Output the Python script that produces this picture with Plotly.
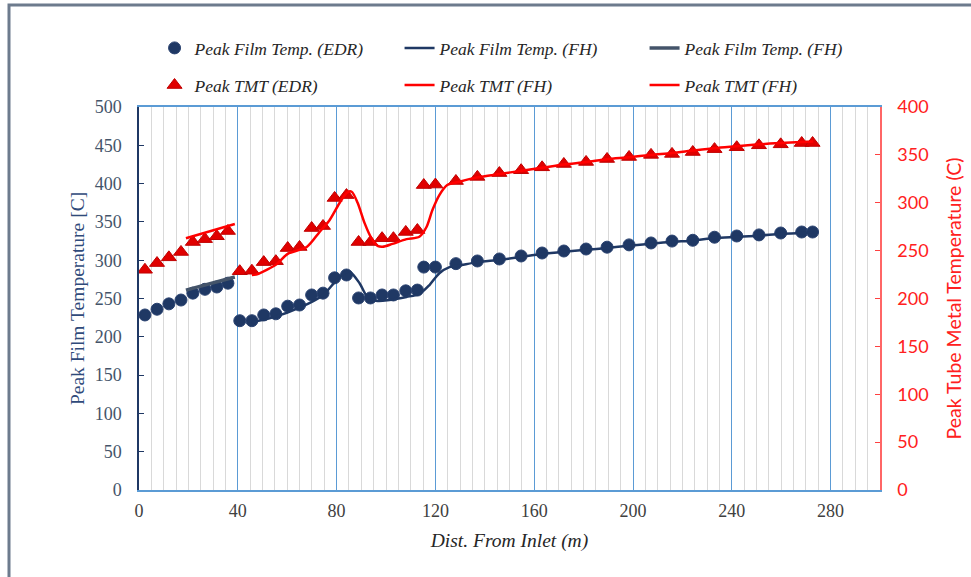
import plotly.graph_objects as go

# ---- data ----
edr_x = [2.4, 7.3, 12.1, 17.0, 21.8, 26.7, 31.5, 36.0, 40.8, 45.7, 50.5, 55.4, 60.2, 65.0,
         69.9, 74.5, 79.2, 84.0, 88.9, 93.7, 98.4, 103.0, 108.0, 112.7, 115.3, 120.0,
         128.3, 137.0, 145.9, 154.7, 163.2, 172.0, 181.0, 189.5, 198.4, 207.3, 215.8,
         224.2, 233.0, 242.0, 251.0, 259.8, 268.3, 272.7]
film_edr = [228.5, 236, 243, 248, 257, 262, 265, 270, 221, 221, 228.5, 230, 240, 241.5,
            254.6, 257, 277, 280.7, 250.7, 250.7, 254.6, 254.6, 260, 261, 291, 291,
            295.5, 299, 301.6, 305.5, 309.4, 312, 314.6, 317, 320, 322.5, 325,
            326, 330, 331.6, 333, 335.5, 336.8, 336.8]
tmt_edr = [230, 237, 243, 248.6, 259, 262, 265, 270.5, 228.5, 229, 238, 239, 252.7, 253.8,
           273.6, 275.7, 305, 308, 259, 259, 263, 263, 269.5, 271.5, 318.5, 319,
           322.7, 327, 331, 334, 337, 340.5, 342.6, 345.7, 347.8, 350, 351,
           353, 356, 358, 360, 361, 362.4, 362.4]

# FH curve (main) for film temperature
fh_film_x = [45.7, 55.0, 65.0, 74.3, 79.2, 83.2, 85.3, 89.3, 92.5, 96.6, 101.4, 108.3,
             113.5, 117.6, 121.6, 125.7, 129.7, 137.0, 146.0, 155.0, 163.0, 172.0,
             181.0, 189.5, 198.4, 207.3, 215.8, 224.2, 233.0, 242.0, 251.0, 259.8,
             268.3, 273.0]
fh_film_y = [219, 226, 238, 254, 271, 283, 285, 270, 252, 246.7, 248, 252,
             256, 267.6, 283, 291, 293, 297.5, 300.5, 304.5, 308, 311, 313.5,
             316, 319, 321.5, 324, 325.5, 329, 330.5, 332, 334.5, 335.5, 336]

# FH short segment (first section) for film temperature
fh_film2_x = [19.0, 38.8]
fh_film2_y = [261, 278]

# FH curve (main) for tube metal temperature
fh_tmt_x = [45.7, 48.1, 55.8, 60.2, 67.9, 73.1, 77.2, 81.2, 84.4, 86.1, 88.5, 91.3, 94.1,
            96.6, 98.6, 102.6, 108.3, 113.5, 116.4, 118.8, 121.6, 124.8, 129.7, 137.0,
            146.0, 155.0, 163.0, 172.0, 181.0, 189.5, 198.4, 207.3, 215.8, 224.2, 233.0,
            242.0, 251.0, 259.8, 268.3, 273.0]
fh_tmt_y = [224.5, 225.6, 236, 246.6, 253.8, 269.5, 282, 299.7, 311, 311.5, 300, 279, 263,
            255, 254, 257, 262, 264.5, 274.7, 292.4, 308, 318.5, 322, 326.5,
            330, 333.5, 336.5, 340, 342.5, 345.5, 347.5, 350, 352, 354.5, 357,
            359, 361, 362.5, 363.5, 364]

# FH short segment (first section) for tube metal temperature
fh_tmt2_x = [19.0, 38.8]
fh_tmt2_y = [263, 277.8]

x_ticks = [0, 40, 80, 120, 160, 200, 240, 280]

# ---- styling ----
NAVY = "#1F3864"
SLATE = "#44546A"
RED = "#FF0000"
TRI = "#E00000"
SERIF = "Liberation Serif"
SANS = "Lato"

fig = go.Figure()

fig.add_trace(go.Scatter(x=edr_x, y=film_edr, mode="markers", name="Peak Film Temp. (EDR)",
                         marker=dict(symbol="circle", size=12, color=NAVY,
                                     line=dict(color="#2A4270", width=1)),
                         legend="legend"))
fig.add_trace(go.Scatter(x=fh_film_x, y=fh_film_y, mode="lines", name="Peak Film Temp. (FH)",
                         line=dict(color=NAVY, width=2.5, shape="spline", smoothing=0.8),
                         legend="legend"))
fig.add_trace(go.Scatter(x=fh_film2_x, y=fh_film2_y, mode="lines", name="Peak Film Temp. (FH)",
                         line=dict(color=SLATE, width=3.5),
                         legend="legend"))

fig.add_trace(go.Scatter(x=edr_x, y=tmt_edr, mode="markers", name="Peak TMT (EDR)",
                         marker=dict(symbol="triangle-up", size=13, color=TRI,
                                     line=dict(color="#C00000", width=1)),
                         yaxis="y2", legend="legend2"))
fig.add_trace(go.Scatter(x=fh_tmt_x, y=fh_tmt_y, mode="lines", name="Peak TMT (FH)",
                         line=dict(color=RED, width=2.5, shape="spline", smoothing=0.8),
                         yaxis="y2", legend="legend2"))
fig.add_trace(go.Scatter(x=fh_tmt2_x, y=fh_tmt2_y, mode="lines", name="Peak TMT (FH)",
                         line=dict(color=RED, width=2.5),
                         yaxis="y2", legend="legend2"))

legend_common = dict(orientation="h", xanchor="left", yanchor="middle",
                     entrywidth=200, entrywidthmode="pixels",
                     bgcolor="rgba(0,0,0,0)", traceorder="normal",
                     font=dict(family=SERIF, size=17.5, color="#262626", style="italic"))

fig.update_layout(
    width=971, height=577,
    margin=dict(l=139, r=91, t=107, b=87),
    paper_bgcolor="white", plot_bgcolor="white",
    showlegend=True,
    legend=dict(x=0.021, y=1.154, **legend_common),
    legend2=dict(x=0.021, y=1.057, **legend_common),
    xaxis=dict(range=[0, 300], tickvals=x_ticks, ticktext=[str(v) for v in x_ticks],
               automargin=False,
               showgrid=True, gridcolor="#5B9BD5", gridwidth=1,
               minor=dict(dtick=5, tick0=0, showgrid=True, gridcolor="#D9D9D9", gridwidth=1),
               showline=True, linecolor="#5B9BD5", linewidth=1.5, mirror=True,
               ticks="", zeroline=False, ticklabelstandoff=4,
               tickfont=dict(family=SERIF, size=18, color="#404040"),
               title=dict(text="Dist. From Inlet (m)", standoff=13,
                          font=dict(family=SERIF, size=19.5, color="#262626", style="italic"))),
    yaxis=dict(range=[0, 500], tickvals=list(range(0, 501, 50)),
               automargin=False,
               showgrid=False, zeroline=False,
               showline=True, linecolor=NAVY, linewidth=1.5,
               ticks="inside", ticklen=5, tickcolor=NAVY, ticklabelstandoff=12,
               tickfont=dict(family=SERIF, size=18, color=SLATE),
               title=dict(text="Peak Film Temperature [C]", standoff=5,
                          font=dict(family=SERIF, size=19.5, color="#2F4A7A"))),
    yaxis2=dict(range=[0, 400], tickvals=list(range(0, 401, 50)),
                overlaying="y", side="right", automargin=False,
                showgrid=False, zeroline=False,
                showline=True, linecolor="#FF6666", linewidth=1.5,
                ticks="inside", ticklen=5, tickcolor="#FF4040", ticklabelstandoff=12,
                tickfont=dict(family=SANS, size=18, color="#FF2020"),
                title=dict(text="Peak Tube Metal Temperature (C)", standoff=20,
                           font=dict(family=SANS, size=19.5, color="#FF2020"))),
    shapes=[dict(type="rect", xref="paper", yref="paper",
                 x0=(9 - 139) / 741, x1=1.2, y0=-0.4, y1=(490 - 5) / 383,
                 line=dict(color="#6D7B8D", width=3), fillcolor="rgba(0,0,0,0)",
                 layer="below")],
)

fig.write_html("out.html", config={"displayModeBar": False},
               post_script="document.body.style.margin='0';")
